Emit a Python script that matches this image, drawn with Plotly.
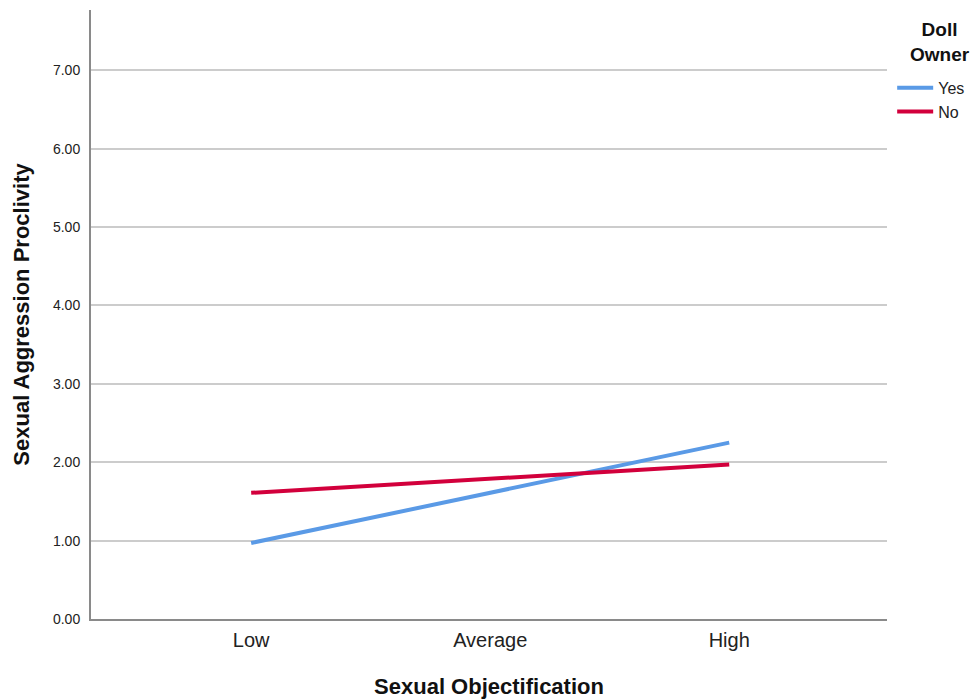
import plotly.graph_objects as go

categories = ["Low", "Average", "High"]
yes_values = [0.97, 1.61, 2.25]
no_values = [1.61, 1.79, 1.97]
series_names = ["Yes", "No"]
y_ticks = [0, 1, 2, 3, 4, 5, 6, 7]

x_pos = list(range(len(categories)))

fig = go.Figure()
fig.add_trace(go.Scatter(x=x_pos, y=yes_values, mode="lines", name=series_names[0],
                         line=dict(color="#5A9AE6", width=4)))
fig.add_trace(go.Scatter(x=x_pos, y=no_values, mode="lines", name=series_names[1],
                         line=dict(color="#D2003C", width=4)))

font_family = "Liberation Sans, Arial, sans-serif"
fig.update_layout(
    width=972, height=700,
    margin=dict(l=91, r=85, t=10, b=81, autoexpand=False),
    paper_bgcolor="white", plot_bgcolor="white",
    font=dict(family=font_family, color="#222"),
    showlegend=True,
    legend=dict(
        x=1.0065, y=0.9, xanchor="left", yanchor="top",
        font=dict(size=16, color="#222"),
        itemwidth=36, tracegroupgap=0,
    ),
    annotations=[dict(
        text="<b>Doll<br>Owner</b>", xref="paper", yref="paper",
        x=1.0666, y=0.988, xanchor="center", yanchor="top", align="center",
        showarrow=False, font=dict(size=19, color="#111"),
    )],
    xaxis=dict(
        range=[-0.67, 2.66],
        tickmode="array", tickvals=x_pos, ticktext=categories,
        tickfont=dict(size=20, color="#222"),
        showgrid=False, zeroline=False,
        showline=True, linecolor="#8a8a8a", linewidth=2,
        ticks="", ticklen=0, ticklabelstandoff=2, automargin=False,
        title=dict(text="<b>Sexual Objectification</b>", font=dict(size=22, color="#111"), standoff=29),
    ),
    yaxis=dict(
        range=[0, 7.77],
        tickmode="array", tickvals=y_ticks, ticktext=[f"{v:.2f}" for v in y_ticks],
        tickfont=dict(size=14, color="#222"),
        showgrid=True, gridcolor="#cccccc", gridwidth=2,
        zeroline=False,
        showline=True, linecolor="#8a8a8a", linewidth=2,
        ticks="", ticklabelstandoff=6, automargin=False,
        title=dict(text="<b>Sexual Aggression Proclivity</b>", font=dict(size=22, color="#111"), standoff=17),
    ),
)

fig.write_html(
    "out.html",
    config={"displayModeBar": False},
    post_script="document.body.style.margin='0';document.body.style.overflow='hidden';",
)
